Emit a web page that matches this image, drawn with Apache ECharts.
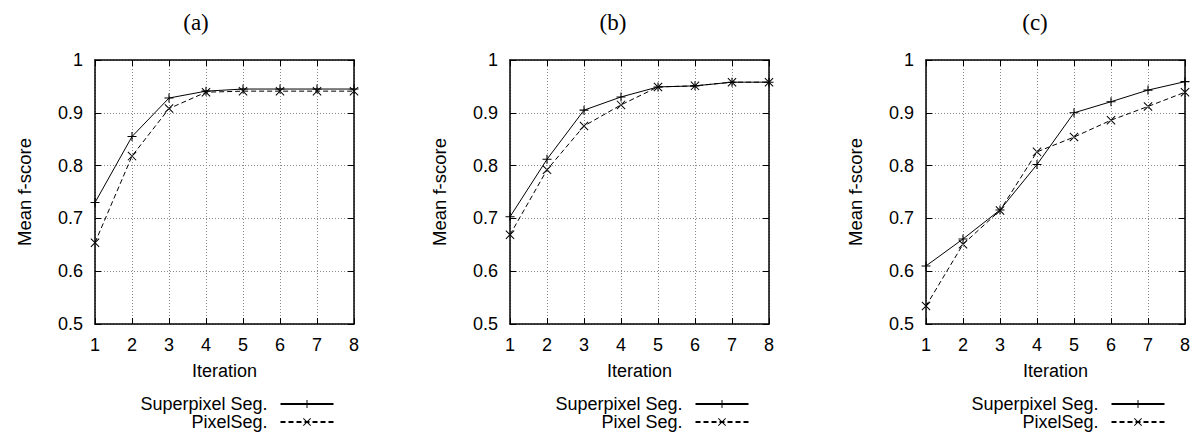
<!DOCTYPE html>
<html>
<head>
<meta charset="utf-8">
<script src="https://cdn.jsdelivr.net/npm/echarts@6/dist/echarts.min.js"></script>
<style>
html,body{margin:0;padding:0;background:#fff;}
#chart{width:1198px;height:437px;}
</style>
</head>
<body>
<div id="chart"></div>
<script>
// ---- data ----
const iterations = [1, 2, 3, 4, 5, 6, 7, 8];
const panelTitles = ['(a)', '(b)', '(c)'];
const superA = [0.730, 0.855, 0.928, 0.941, 0.945, 0.945, 0.945, 0.945];
const pixelA = [0.654, 0.818, 0.908, 0.939, 0.941, 0.941, 0.941, 0.941];
const superB = [0.703, 0.812, 0.905, 0.930, 0.949, 0.951, 0.958, 0.958];
const pixelB = [0.669, 0.792, 0.875, 0.915, 0.949, 0.951, 0.958, 0.958];
const superC = [0.610, 0.661, 0.716, 0.802, 0.900, 0.921, 0.943, 0.959];
const pixelC = [0.534, 0.651, 0.715, 0.826, 0.854, 0.886, 0.912, 0.939];
const superNames = ['Superpixel Seg.', 'Superpixel Seg.', 'Superpixel Seg.'];
const pixelNames = ['PixelSeg.', 'Pixel Seg.', 'PixelSeg.'];
const xAxisName = 'Iteration';
const yAxisName = 'Mean f-score';

const superData = [superA, superB, superC];
const pixelData = [pixelA, pixelB, pixelC];

// ---- layout ----
const gridLefts = [95, 510, 926];
const gridWidth = 259;
const gridTop = 60;
const gridHeight = 264;
const titleCenters = [196, 613, 1035];
const FONT = 'Liberation Sans, Arial, Helvetica, sans-serif';

const plusPath = 'path://M0,4.4H10V5.6H0Z M4.4,0H5.6V10H4.4Z';
const crossPath = 'path://M0,0.8L0.8,0L10,9.2L9.2,10Z M10,0.8L9.2,0L0,9.2L0.8,10Z';

const grids = [], xAxes = [], yAxes = [], series = [], legends = [], graphics = [];

for (let i = 0; i < 3; i++) {
  grids.push({left: gridLefts[i], top: gridTop, width: gridWidth, height: gridHeight, containLabel: false});
  // bottom x axis
  xAxes.push({
    type: 'value', gridIndex: i, min: 1, max: 8, interval: 1, position: 'bottom',
    name: xAxisName, nameLocation: 'middle', nameGap: 38,
    nameTextStyle: {fontFamily: FONT, fontSize: 18, color: '#000'},
    axisLine: {show: true, onZero: false, lineStyle: {color: '#000', width: 1.5}},
    axisTick: {show: true, inside: true, length: 6, lineStyle: {color: '#000', width: 1}},
    axisLabel: {show: true, margin: 12, fontFamily: FONT, fontSize: 18, color: '#000'},
    splitLine: {show: true, lineStyle: {color: '#888', width: 1, type: [1, 2]}}
  });
  // top x axis (frame + mirror ticks)
  xAxes.push({
    type: 'value', gridIndex: i, min: 1, max: 8, interval: 1, position: 'top',
    axisLine: {show: true, onZero: false, lineStyle: {color: '#000', width: 1.5}},
    axisTick: {show: true, inside: true, length: 6, lineStyle: {color: '#000', width: 1}},
    axisLabel: {show: false}, splitLine: {show: false}
  });
  // left y axis
  yAxes.push({
    type: 'value', gridIndex: i, min: 0.5, max: 1, interval: 0.1, position: 'left',
    name: yAxisName, nameLocation: 'middle', nameGap: 61, nameRotate: 90,
    nameTextStyle: {fontFamily: FONT, fontSize: 18.5, color: '#000'},
    axisLine: {show: true, onZero: false, lineStyle: {color: '#000', width: 1.5}},
    axisTick: {show: true, inside: true, length: 6, lineStyle: {color: '#000', width: 1}},
    axisLabel: {show: true, margin: 12, fontFamily: FONT, fontSize: 18, color: '#000'},
    splitLine: {show: true, lineStyle: {color: '#888', width: 1, type: [1, 2]}}
  });
  // right y axis
  yAxes.push({
    type: 'value', gridIndex: i, min: 0.5, max: 1, interval: 0.1, position: 'right',
    axisLine: {show: true, onZero: false, lineStyle: {color: '#000', width: 1.5}},
    axisTick: {show: true, inside: true, length: 6, lineStyle: {color: '#000', width: 1}},
    axisLabel: {show: false}, splitLine: {show: false}
  });

  series.push({
    type: 'line', name: superNames[i], xAxisIndex: 2 * i, yAxisIndex: 2 * i,
    data: iterations.map((x, k) => [x, superData[i][k]]),
    symbol: plusPath, symbolSize: 9, showSymbol: true,
    lineStyle: {color: '#000', width: 1, type: 'solid'},
    itemStyle: {color: '#000'}, animation: false, z: 5
  });
  series.push({
    type: 'line', name: pixelNames[i], xAxisIndex: 2 * i, yAxisIndex: 2 * i,
    data: iterations.map((x, k) => [x, pixelData[i][k]]),
    symbol: crossPath, symbolSize: 9, showSymbol: true,
    lineStyle: {color: '#000', width: 1, type: [5, 3]},
    itemStyle: {color: '#000'}, animation: false, z: 5
  });

  const lineEnd = gridLefts[i] + gridWidth / 2 + 110;
  const rows = [[superNames[i], 395], [pixelNames[i], 413]];
  rows.forEach(([nm, top]) => {
    legends.push({
      data: [nm], orient: 'vertical', align: 'right', right: 1198 - lineEnd, top: top,
      padding: 0, itemWidth: 53, itemHeight: 10, selectedMode: false,
      textStyle: {fontFamily: FONT, fontSize: 18, color: '#000', padding: [0, 8, 0, 0]}
    });
  });

  graphics.push({
    type: 'text', x: titleCenters[i], y: 22,
    style: {text: panelTitles[i], fontFamily: 'Liberation Serif, Times New Roman, serif', fontSize: 23,
      fill: '#000', textAlign: 'center', textVerticalAlign: 'middle'}
  });
}

const chart = echarts.init(document.getElementById('chart'), null, {renderer: 'svg'});
chart.setOption({
  animation: false,
  backgroundColor: '#fff',
  grid: grids, xAxis: xAxes, yAxis: yAxes, series: series, legend: legends, graphic: graphics
});
</script>
</body>
</html>
